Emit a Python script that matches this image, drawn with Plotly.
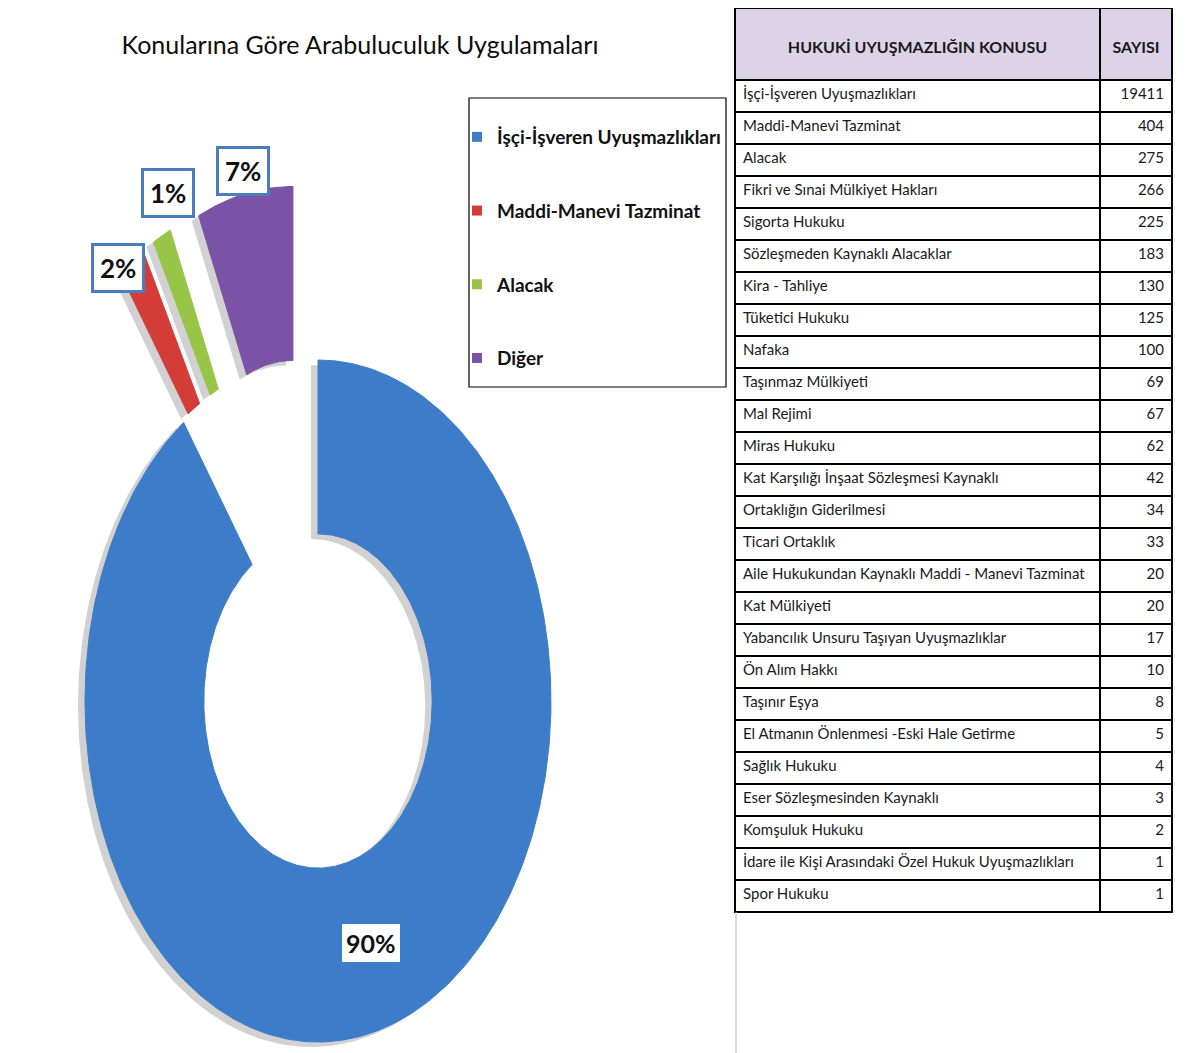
import numpy as np
import plotly.graph_objects as go

# ---------------- data ----------------
topics = [
    "İşçi-İşveren Uyuşmazlıkları", "Maddi-Manevi Tazminat", "Alacak",
    "Fikri ve Sınai Mülkiyet Hakları", "Sigorta Hukuku", "Sözleşmeden Kaynaklı Alacaklar",
    "Kira - Tahliye", "Tüketici Hukuku", "Nafaka", "Taşınmaz Mülkiyeti", "Mal Rejimi",
    "Miras Hukuku", "Kat Karşılığı İnşaat Sözleşmesi Kaynaklı", "Ortaklığın Giderilmesi",
    "Ticari Ortaklık", "Aile Hukukundan Kaynaklı Maddi - Manevi Tazminat", "Kat Mülkiyeti",
    "Yabancılık Unsuru Taşıyan Uyuşmazlıklar", "Ön Alım Hakkı", "Taşınır Eşya",
    "El Atmanın Önlenmesi -Eski Hale Getirme", "Sağlık Hukuku", "Eser Sözleşmesinden Kaynaklı",
    "Komşuluk Hukuku", "İdare ile Kişi Arasındaki Özel Hukuk Uyuşmazlıkları", "Spor Hukuku",
]
counts = [19411, 404, 275, 266, 225, 183, 130, 125, 100, 69, 67, 62, 42, 34, 33,
          20, 20, 17, 10, 8, 5, 4, 3, 2, 1, 1]

pie_labels = ["İşçi-İşveren Uyuşmazlıkları", "Maddi-Manevi Tazminat", "Alacak", "Diğer"]
pie_values = [counts[0], counts[1], counts[2], sum(counts[3:])]

table_header = ["HUKUKİ UYUŞMAZLIĞIN KONUSU", "SAYISI"]
chart_title = "Konularına Göre Arabuluculuk Uygulamaları"

# ---------------- style ----------------
pie_colors = ["#3d7cc9", "#d43c37", "#97c548", "#7a53a7"]
pie_pull = [0.0, 0.52, 0.52, 0.52]
label_shift = [(0, 0), (-13, 7), (6, -43), (-2, -23)]

W, H = 1188, 1053          # page size
OFF = 8                    # default body margin of the page
FW, FH = W - OFF, H - OFF  # figure size


def px(p):
    return (p - OFF) / FW


def py(p):
    return 1 - (p - OFF) / FH


FONT = "Lato, Liberation Sans, sans-serif"
CX, CY, RA, RB = 318, 701, 233, 341
HOLE = 0.49

fig = go.Figure()

total = float(sum(pie_values))
start = 0.0
slices = []
for lab, val, col, pull in zip(pie_labels, pie_values, pie_colors, pie_pull):
    frac = val / total
    t1, t2 = 2 * np.pi * start, 2 * np.pi * (start + frac)
    tm = 0.5 * (t1 + t2)
    ox, oy = pull * RA * np.sin(tm), -pull * RB * np.cos(tm)
    n = max(8, int(frac * 400))
    th_o = np.linspace(t1, t2, n)
    th_i = th_o[::-1]
    xs = np.concatenate([CX + ox + RA * np.sin(th_o), CX + ox + HOLE * RA * np.sin(th_i)])
    ys = np.concatenate([CY + oy - RB * np.cos(th_o), CY + oy - HOLE * RB * np.cos(th_i)])
    xs = np.append(xs, xs[0])
    ys = np.append(ys, ys[0])
    slices.append((lab, val, col, pull, frac, tm, xs, ys))
    start += frac

# soft shadows
for lab, val, col, pull, frac, tm, xs, ys in slices:
    fig.add_trace(go.Scatter(x=xs - 7, y=ys + 5, mode="lines", fill="toself",
                             fillcolor="rgba(90,90,90,0.28)", line=dict(width=0),
                             hoverinfo="skip", showlegend=False))
# slices
for lab, val, col, pull, frac, tm, xs, ys in slices:
    fig.add_trace(go.Scatter(x=xs, y=ys, mode="lines", fill="toself", fillcolor=col,
                             line=dict(color=col, width=1), name=lab, legendgroup=lab,
                             showlegend=False, hoveron="fills",
                             text=f"{lab}: {val}", hoverinfo="text"))
# legend entries
for lab, col in zip(pie_labels, pie_colors):
    fig.add_trace(go.Scatter(x=[None], y=[None], mode="markers", name=lab, legendgroup=lab,
                             marker=dict(symbol="square", size=10, color=col),
                             showlegend=True))

# percentage labels
for i, (lab, val, col, pull, frac, tm, xs, ys) in enumerate(slices):
    pct = f"{round(100 * frac)}%"
    if pull == 0:
        r = (1 + HOLE) / 2
        lx, ly = CX + r * RA * np.sin(tm), CY - r * RB * np.cos(tm)
        fig.add_annotation(x=lx, y=ly, text=f"<b>{pct}</b>", showarrow=False,
                           font=dict(family=FONT, size=25, color="#111"),
                           bgcolor="white", borderpad=4, borderwidth=0)
    else:
        lx = CX + (1 + pull) * RA * np.sin(tm) + label_shift[i][0]
        ly = CY - (1 + pull) * RB * np.cos(tm) + label_shift[i][1]
        fig.add_annotation(x=lx, y=ly, text=f"<b>{pct}</b>", showarrow=False,
                           font=dict(family=FONT, size=26, color="#111"),
                           bgcolor="white", bordercolor="#4a7dbd", borderwidth=3, borderpad=6)

# table
fig.add_trace(go.Table(
    domain=dict(x=[px(735), px(1172)], y=[0, 1]),
    columnwidth=[365, 72],
    header=dict(values=[f"&nbsp;<br><b>{h}</b>" for h in table_header],
                fill_color="#dcd3e8", align="center", height=72,
                font=dict(family=FONT, size=16, color="#1a1a1a"),
                line=dict(color="black", width=2)),
    cells=dict(values=[topics, counts], align=["left", "right"], height=32,
               fill_color="white",
               font=dict(family=FONT, size=15, color="#1a1a1a"),
               line=dict(color="black", width=1.5)),
))

fig.update_layout(
    width=FW, height=FH,
    margin=dict(l=0, r=0, t=0, b=0),
    paper_bgcolor="white", plot_bgcolor="white",
    title=dict(text=chart_title, x=px(360), xanchor="center", y=py(45), yanchor="middle",
               font=dict(family=FONT, size=25, color="#0d0d0d")),
    xaxis=dict(range=[OFF, W], domain=[0, 1], visible=False, fixedrange=True),
    yaxis=dict(range=[H, OFF], domain=[0, 1], visible=False, fixedrange=True),
    legend=dict(x=px(457), y=py(118), xanchor="left", yanchor="top",
                bgcolor="rgba(0,0,0,0)", borderwidth=0, tracegroupgap=46,
                font=dict(family=FONT, size=19, color="#111", weight="bold"),
                itemwidth=30),
    shapes=[
        dict(type="rect", xref="x", yref="y", x0=469, x1=726, y0=98, y1=387,
             line=dict(color="black", width=1.2), fillcolor="rgba(0,0,0,0)", layer="below"),
        dict(type="line", xref="x", yref="y", x0=736, x1=736, y0=912, y1=H,
             line=dict(color="#bbb", width=1)),
    ],
    showlegend=True,
)

fig.write_html("out.html")
